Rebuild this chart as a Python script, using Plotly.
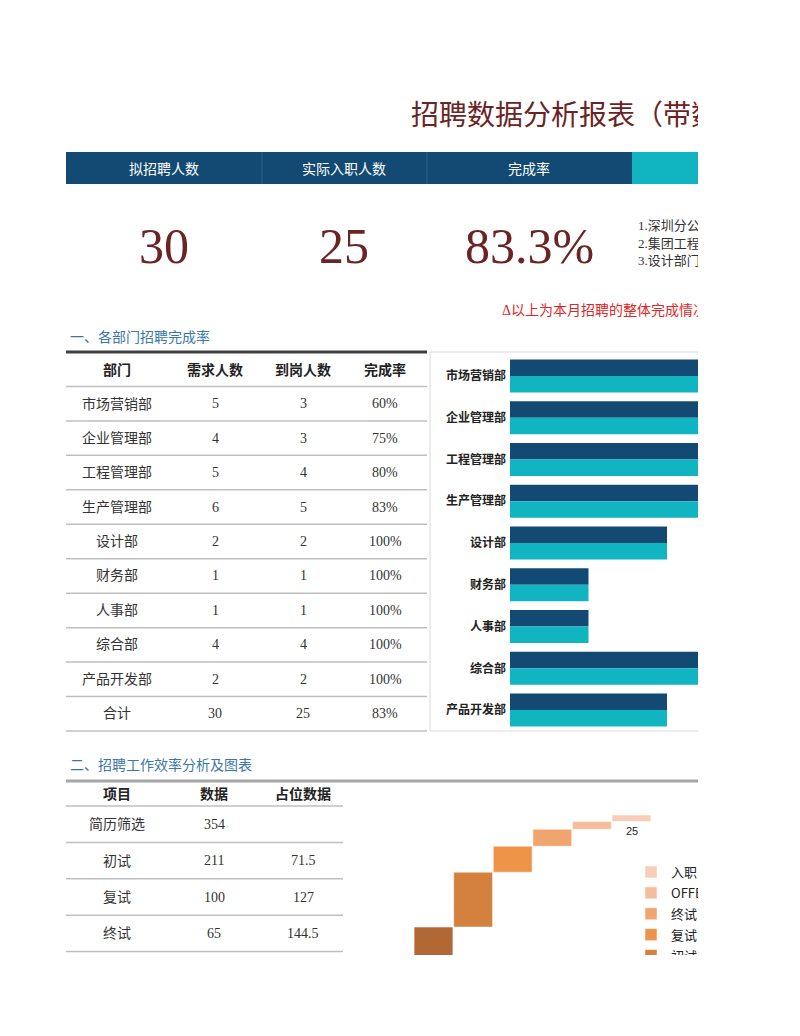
import plotly.graph_objects as go

# ---- data ----
kpi_labels = ["拟招聘人数", "实际入职人数", "完成率"]
notes = ["1.深圳分公司", "2.集团工程部", "3.设计部门"]

depts = ["市场营销部", "企业管理部", "工程管理部", "生产管理部", "设计部",
         "财务部", "人事部", "综合部", "产品开发部"]
demand = [5, 4, 5, 6, 2, 1, 1, 4, 2]
hired = [3, 3, 4, 5, 2, 1, 1, 4, 2]

stages = ["简历筛选", "初试", "复试", "终试", "OFFER", "入职"]
counts = [354, 211, 100, 65, 30, 25]
placeholder = ["", "71.5", "127", "144.5"]
stage_colors = ["#b26834", "#d4803e", "#ee9448", "#f1a56e", "#f5bd9b", "#f8ceba"]

NAVY = "#124a73"
TEAL = "#10b5c1"
RED = "#6b2424"
BLUE = "#3b77a8"

# page -> paper helpers (browser body margin of 8px)
OX, OY = 8, 8
W, H = 690, 947


def X(p):
    return (p - OX) / W


def Y(p):
    return 1 - (p - OY) / H


SERIF = "Liberation Serif, Noto Sans CJK SC"
SANS = "Noto Sans CJK SC"

annotations = []
shapes = []


def txt(x, y, text, size=14, color="#333333", family=SERIF, xanchor="center"):
    annotations.append(dict(x=X(x), y=Y(y), xref="paper", yref="paper", text=text,
                            showarrow=False, xanchor=xanchor, yanchor="middle",
                            font=dict(size=size, color=color, family=family)))


def hline(x0, x1, y, color="#bfbfbf", width=1.5):
    shapes.append(dict(type="line", xref="paper", yref="paper", x0=X(x0), x1=X(x1),
                       y0=Y(y), y1=Y(y), line=dict(color=color, width=width)))


# title
txt(409, 113, "招聘数据分析报表（带数据图表）", size=28, color=RED, family=SANS, xanchor="left")

# kpi header band
shapes.append(dict(type="rect", xref="paper", yref="paper", x0=X(66), x1=X(632),
                   y0=Y(184), y1=Y(152), fillcolor=NAVY, line_width=0))
shapes.append(dict(type="rect", xref="paper", yref="paper", x0=X(632), x1=X(760),
                   y0=Y(184), y1=Y(152), fillcolor=TEAL, line_width=0))
for sx in [262, 427]:
    shapes.append(dict(type="line", xref="paper", yref="paper", x0=X(sx), x1=X(sx),
                       y0=Y(184), y1=Y(152), line=dict(color="#2d6088", width=1)))
for cx, lab in zip([164, 344, 529], kpi_labels):
    txt(cx, 168, lab, size=14, color="white", family=SANS)

plan_total = sum(demand)
hired_total = sum(hired)
kpi_values = [str(plan_total), str(hired_total), f"{hired_total / plan_total * 100:.1f}%"]
for cx, val in zip([164, 344, 529], kpi_values):
    txt(cx, 246, val, size=50, color=RED, family="Liberation Serif")

for i, n in enumerate(notes):
    txt(636, 226 + i * 17.5, n, size=13, color="#333333", xanchor="left")

txt(500, 311, "Δ以上为本月招聘的整体完成情况", size=14, color="#e02626", xanchor="left")

# section 1 table
txt(68, 337, "一、各部门招聘完成率", size=14, color=BLUE, xanchor="left")
cols1 = [117, 215, 303, 385]
row_h = (731 - 352) / 11
hline(66, 427, 352, color="#404040", width=3)
for cx, lab in zip(cols1, ["<b>部门</b>", "<b>需求人数</b>", "<b>到岗人数</b>", "<b>完成率</b>"]):
    txt(cx, 352 + row_h / 2, lab, size=14, color="#222222", family=SANS)
rows = [(d, str(a), str(b), f"{round(b / a * 100)}%") for d, a, b in zip(depts, demand, hired)]
rows.append(("合计", str(plan_total), str(hired_total), f"{round(hired_total / plan_total * 100)}%"))
for r, row in enumerate(rows):
    cy = 352 + row_h * (r + 1.5)
    for cx, v in zip(cols1, row):
        txt(cx, cy, v)
    hline(66, 427, 352 + row_h * (r + 1))
hline(66, 427, 731)

# bar chart frame
shapes.append(dict(type="rect", xref="paper", yref="paper", x0=X(430), x1=X(760),
                   y0=Y(731), y1=Y(352), line=dict(color="#d9d9d9", width=1)))

# section 2 table
txt(68, 765, "二、招聘工作效率分析及图表", size=14, color=BLUE, xanchor="left")
hline(66, 760, 781, color="#a6a6a6", width=3)
cols2 = [117, 214, 303]
for cx, lab in zip(cols2, ["<b>项目</b>", "<b>数据</b>", "<b>占位数据</b>"]):
    txt(cx, 793, lab, size=14, color="#222222", family=SANS)
hline(66, 343, 806)
row2_h = 36.4
for r, ph in enumerate(placeholder):
    cy = 806 + row2_h * (r + 0.5)
    txt(cols2[0], cy, stages[r])
    txt(cols2[1], cy, str(counts[r]))
    txt(cols2[2], cy, ph)
    hline(66, 343, 806 + row2_h * (r + 1))

fig = go.Figure()

# department chart
fig.add_trace(go.Bar(y=depts, x=demand, orientation="h", name="需求人数",
                     marker=dict(color=NAVY, line_width=0), width=0.395, offset=-0.395,
                     xaxis="x", yaxis="y", showlegend=False, hoverinfo="skip"))
fig.add_trace(go.Bar(y=depts, x=hired, orientation="h", name="到岗人数",
                     marker=dict(color=TEAL, line_width=0), width=0.395, offset=0,
                     xaxis="x", yaxis="y", showlegend=False, hoverinfo="skip"))

# recruiting funnel steps
base = 0
for i, (s, c, col) in enumerate(zip(stages, counts, stage_colors)):
    fig.add_trace(go.Bar(x=[s], y=[c], base=[base], name=s, legendgroup=s,
                         legendrank=1000 - i * 10,
                         marker=dict(color=col, line=dict(color="white", width=0.5)),
                         width=0.98, offset=-0.49, xaxis="x2", yaxis="y2",
                         hoverinfo="skip"))
    if s == "入职":
        annotations.append(dict(x=s, y=base, xref="x2", yref="y2", text=str(c),
                                showarrow=False, yanchor="top", yshift=-1,
                                font=dict(size=11, color="#222222", family="Liberation Sans")))
    base += c

fig.update_layout(
    width=W, height=H,
    margin=dict(l=0, r=0, t=0, b=0, autoexpand=False),
    paper_bgcolor="white", plot_bgcolor="rgba(0,0,0,0)",
    barmode="overlay",
    shapes=shapes, annotations=annotations,
    xaxis=dict(domain=[X(510), 1], range=[0, (OX + W - 510) / 78.5], visible=False,
               fixedrange=True),
    yaxis=dict(domain=[Y(731), Y(355)], type="category", range=[8.5, -0.5],
               showgrid=False, zeroline=False, showline=False, ticks="",
               ticklabelstandoff=3,
               tickfont=dict(size=12, color="#222222", family=SANS, weight="bold"),
               anchor="x"),
    xaxis2=dict(domain=[X(413.7), X(651.3)], type="category", range=[-0.5, 5.5],
                visible=False, anchor="y2"),
    yaxis2=dict(domain=[0, Y(790)], range=[246.5, 881.2], visible=False, anchor="x2"),
    legend=dict(x=X(631), y=Y(857), xanchor="left", yanchor="top",
                traceorder="grouped", tracegroupgap=1,
                font=dict(size=13, color="#222222", family=SANS),
                bgcolor="rgba(0,0,0,0)"),
    font=dict(family=SANS),
)

fig.write_html("out.html")
